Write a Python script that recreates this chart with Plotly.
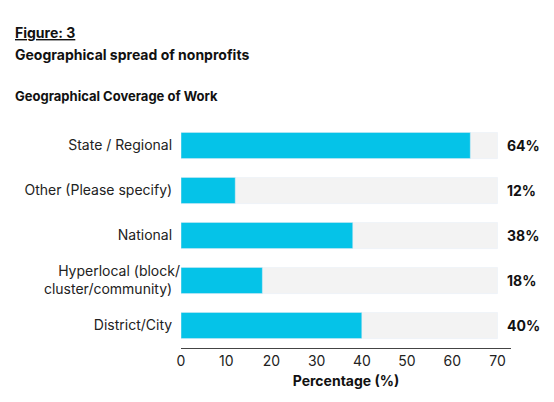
import plotly.graph_objects as go

categories = ["District/City", "Hyperlocal (block/<br>cluster/community)", "National",
              "Other (Please specify)", "State / Regional"]
values = [40, 18, 38, 12, 64]
axis_max = 70

fig = go.Figure()
fig.add_trace(go.Bar(y=categories, x=[axis_max] * len(categories), orientation="h",
                     marker_color="#F3F3F3", width=0.58, hoverinfo="skip"))
fig.add_trace(go.Bar(y=categories, x=values, orientation="h",
                     marker_color="#05C3E8", width=0.58))

for c, v in zip(categories, values):
    fig.add_annotation(x=axis_max, y=c, text=f"<b>{v}%</b>", showarrow=False,
                       xanchor="left", xshift=8, font=dict(size=14, color="#111"))

pw, ph = 330, 225
fig.add_annotation(xref="paper", yref="paper", x=-168/pw, y=1 + 101/ph, text="<b><u>Figure: 3</u></b>",
                   showarrow=False, xanchor="left", font=dict(size=14, color="#111"))
fig.add_annotation(xref="paper", yref="paper", x=-168/pw, y=1 + 79/ph,
                   text="<b>Geographical spread of nonprofits</b>",
                   showarrow=False, xanchor="left", font=dict(size=14, color="#111"))
fig.add_annotation(xref="paper", yref="paper", x=-168/pw, y=1 + 37/ph,
                   text="<b>Geographical Coverage of Work</b>",
                   showarrow=False, xanchor="left", font=dict(size=13, color="#111"))

fig.update_layout(
    width=554, height=402, barmode="overlay", showlegend=False,
    margin=dict(l=173, r=554 - 173 - pw, t=115, b=62),
    plot_bgcolor="white", paper_bgcolor="white",
    font=dict(family="Inter, Lato, sans-serif", size=14, color="#222"),
    xaxis=dict(range=[0, 73], tickvals=[0, 10, 20, 30, 40, 50, 60, 70], showgrid=False, showline=True,
               linecolor="#444", ticks="", automargin=False,
               title=dict(text="<b>Percentage (%)</b>", font=dict(size=14, color="#111"), standoff=8)),
    yaxis=dict(showgrid=False, ticks="", ticksuffix="  ", range=[-0.5, 4.5], automargin=False),
)
fig.write_html("out.html")
